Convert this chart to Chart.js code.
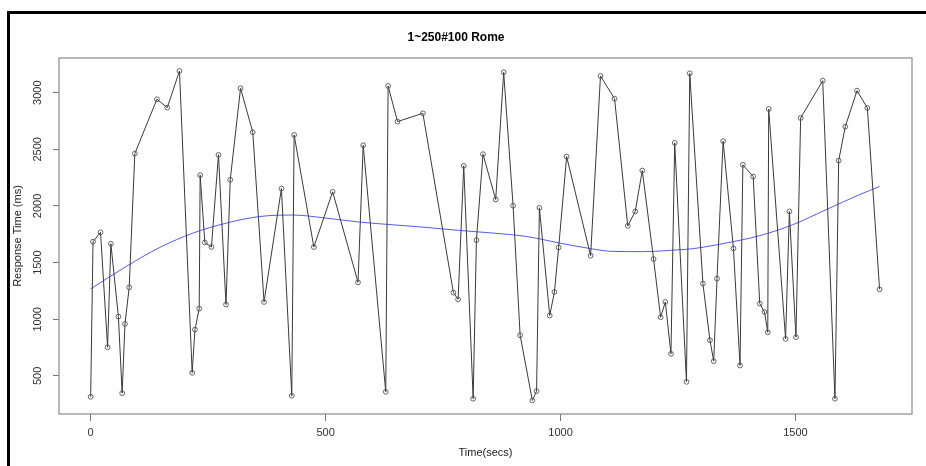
<!DOCTYPE html>
<html>
<head>
<meta charset="utf-8">
<script src="https://cdn.jsdelivr.net/npm/chart.js@4"></script>
<style>
  body { margin: 0; background: #fff; }
  #wrap { position: relative; width: 926px; height: 466px; overflow: hidden; }
  #frame { position: absolute; left: 7px; top: 11px; width: 1000px; height: 1000px;
           border-left: 3px solid #000; border-top: 3px solid #000; }
  #chart { position: absolute; left: 0; top: 0; }
</style>
</head>
<body>
<div id="wrap">
  <div id="frame"></div>
  <canvas id="chart" width="926" height="466"></canvas>
</div>
<script>
// Время запроса (сек) и время ответа (мс)
const times = [0, 5, 21, 36, 43, 59, 67, 73, 82, 94, 141, 163, 189, 216, 222, 231, 233, 243, 257, 272,
  288, 297, 319, 345, 369, 406, 428, 433, 475, 515, 569, 580, 628, 633, 653, 707, 772, 782, 794, 814,
  821, 835, 862, 879, 899, 914, 940, 949, 955, 977, 987, 996, 1013, 1064, 1085, 1115, 1143, 1159, 1174, 1198,
  1213, 1223, 1235, 1243, 1268, 1275, 1303, 1318, 1326, 1333, 1346, 1368, 1382, 1388, 1410, 1424, 1434, 1441, 1443, 1479,
  1487, 1501, 1511, 1558, 1584, 1592, 1606, 1631, 1653, 1679];
const respTimes = [316, 1685, 1767, 753, 1667, 1024, 348, 959, 1282, 2463, 2942, 2868, 3191, 528, 909, 1094, 2272, 1678, 1638, 2451,
  1130, 2231, 3039, 2651, 1153, 2154, 325, 2627, 1638, 2125, 1326, 2536, 360, 3059, 2745, 2818, 1235, 1176, 2354, 299,
  1699, 2457, 2057, 3180, 2002, 859, 284, 366, 1984, 1033, 1241, 1634, 2436, 1561, 3147, 2947, 1825, 1952, 2313, 1532,
  1018, 1153, 695, 2557, 448, 3171, 1315, 815, 630, 1359, 2572, 1626, 592, 2363, 2260, 1138, 1065, 885, 2856, 827,
  1952, 842, 2777, 3106, 299, 2401, 2700, 3018, 2865, 1264];

// Сглаженная кривая (lowess)
const smoothX = [0, 76, 147, 218, 289, 360, 430, 501, 572, 643, 714, 785, 856, 927, 998, 1069, 1111, 1175, 1253, 1281, 1352, 1423, 1494, 1565, 1636, 1679];
const smoothY = [1268, 1467, 1634, 1761, 1849, 1907, 1920, 1893, 1858, 1834, 1811, 1784, 1761, 1731, 1673, 1620, 1599, 1597, 1614, 1623, 1673, 1737, 1834, 1967, 2099, 2172];

const xTicks = [0, 500, 1000, 1500];
const yTicks = [500, 1000, 1500, 2000, 2500, 3000];

const FONT = "'Liberation Sans', Arial, sans-serif";

// Рамка графика и повёрнутые подписи оси Y
const boxPlugin = {
  id: 'box',
  afterDraw(chart) {
    const { ctx, chartArea: a, scales } = chart;
    ctx.save();
    ctx.strokeStyle = '#8a8a8a';
    ctx.lineWidth = 1.2;
    ctx.strokeRect(a.left, a.top, a.right - a.left, a.bottom - a.top);
    ctx.fillStyle = '#333';
    ctx.font = '11px ' + FONT;
    ctx.textAlign = 'center';
    ctx.textBaseline = 'middle';
    yTicks.forEach(v => {
      const y = scales.y.getPixelForValue(v);
      ctx.save();
      ctx.translate(38, y);
      ctx.rotate(-Math.PI / 2);
      ctx.fillText(String(v), 0, 0);
      ctx.restore();
    });
    ctx.restore();
  }
};

new Chart(document.getElementById('chart').getContext('2d'), {
  type: 'line',
  data: {
    datasets: [{
      label: 'Response',
      data: times.map((t, i) => ({ x: t, y: respTimes[i] })),
      borderColor: '#3a3a3a',
      borderWidth: 1,
      pointRadius: 2.4,
      pointBorderWidth: 0.9,
      pointBorderColor: '#555',
      pointBackgroundColor: 'rgba(255,255,255,0)',
      tension: 0
    }, {
      label: 'Smooth',
      data: smoothX.map((t, i) => ({ x: t, y: smoothY[i] })),
      borderColor: 'rgba(70,70,255,0.9)',
      borderWidth: 1,
      pointRadius: 0,
      cubicInterpolationMode: 'monotone'
    }]
  },
  options: {
    responsive: false,
    animation: false,
    layout: { padding: { left: 0, right: 14, top: 0, bottom: 0 } },
    plugins: {
      legend: { display: false },
      tooltip: { enabled: false },
      title: {
        display: true,
        text: '1~250#100 Rome',
        color: '#000',
        font: { family: FONT, size: 12, weight: 'bold' },
        padding: { top: 30, bottom: 13.6 }
      }
    },
    scales: {
      x: {
        type: 'linear',
        min: -67.4,
        max: 1748,
        afterBuildTicks: s => { s.ticks = xTicks.map(v => ({ value: v })); },
        afterFit: s => { s.height = 52; },
        border: { display: false },
        grid: { drawOnChartArea: false, drawTicks: true, tickLength: 7, color: '#777' },
        ticks: { color: '#333', font: { family: FONT, size: 11 }, padding: 5, maxRotation: 0,
                 callback: v => String(v) },
        title: {
          display: true, text: 'Time(secs)', color: '#222',
          font: { family: FONT, size: 11 }, padding: { top: 0, bottom: 6.4 }
        }
      },
      y: {
        type: 'linear',
        min: 164,
        max: 3306,
        afterBuildTicks: s => { s.ticks = yTicks.map(v => ({ value: v })); },
        afterFit: s => { s.width = 59; },
        border: { display: false },
        grid: { drawOnChartArea: false, drawTicks: true, tickLength: 6, color: '#777' },
        ticks: { display: false },
        title: {
          display: true, text: 'Response Time (ms)', color: '#222',
          font: { family: FONT, size: 11 }, padding: { top: 11, bottom: 0 }
        }
      }
    }
  },
  plugins: [boxPlugin]
});
</script>
</body>
</html>
